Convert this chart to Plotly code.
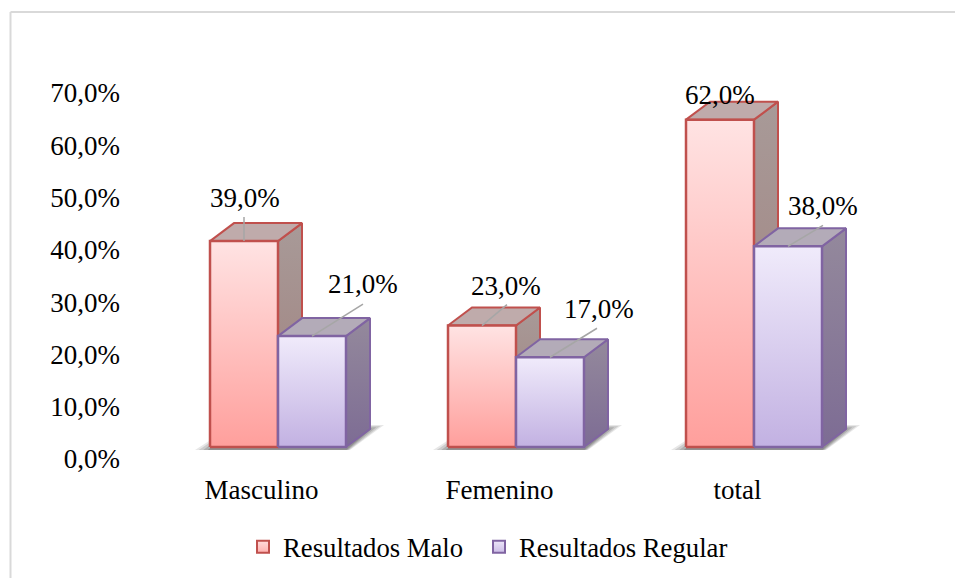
import plotly.graph_objects as go

# ---- data ----
categories = ["Masculino", "Femenino", "total"]
resultados_malo = [39.0, 23.0, 62.0]
resultados_regular = [21.0, 17.0, 38.0]
tick_values = [0, 10, 20, 30, 40, 50, 60, 70]
series_names = ["Resultados Malo", "Resultados Regular"]

# ---- page geometry (pixels) ----
W, H = 955, 578
PX_PER_CAT = 238.0     # distance between groups
X0_PX = 278.0          # centre of first group
PX_PER_PCT = 5.28      # bar scale
BASE_PX = 447.0        # floor of the bars
TICK_ZERO_PX = 459.0   # where the 0,0% tick label sits
TICK_PX_PER_PCT = 5.23
FONT = "Liberation Serif"
FS = 27

dx = 24 / PX_PER_CAT
dy = 18 / PX_PER_PCT
bw = 68 / PX_PER_CAT
ux = 1 / PX_PER_CAT
uy = 1 / PX_PER_PCT

STYLE = [
    dict(line="#C0504D", front=("#FFE3E3", "#FF9F9C"),
         top="#BFABAB", side=("#A89A98", "#A07F7C"), legend=("#FFDCDC", "#FFB0AE")),
    dict(line="#8064A2", front=("#F0EBFB", "#C2B1E2"),
         top="#B3ABB8", side=("#94899C", "#7D6C94"), legend=("#EDE6F9", "#CBBCE6")),
]

fig = go.Figure()


def poly(xs, ys, line=None, color=None, grad=None, lw=2.5):
    kw = dict(x=xs + xs[:1], y=ys + ys[:1], mode="lines", fill="toself",
              hoverinfo="skip", showlegend=False,
              line=dict(width=lw if line else 0, color=line or "rgba(0,0,0,0)"))
    if grad:
        kw["fillgradient"] = dict(type="vertical", colorscale=[[0, grad[1]], [1, grad[0]]])
        kw["fillcolor"] = grad[0]
    else:
        kw["fillcolor"] = color
    fig.add_trace(go.Scatter(**kw))


def bar3d(xl, v, st):
    xr = xl + bw
    poly([xr, xr + dx, xr + dx, xr], [0, dy, v + dy, v], line=st["line"], grad=st["side"], lw=2)
    poly([xl, xl + dx, xr + dx, xr], [v, v + dy, v + dy, v], line=st["line"], color=st["top"], lw=2)
    poly([xl, xr, xr, xl], [0, 0, v, v], line=st["line"], grad=st["front"])


# soft shadows on the floor, built up from a few translucent layers
for i in range(len(categories)):
    xl = i - bw
    xr = i + bw
    for grow, alpha in [(1.0, 0.12), (0.75, 0.16), (0.45, 0.2), (0.15, 0.26)]:
        poly([xl - grow * 15 * ux, xr + grow * 4 * ux, xr + dx + grow * 14 * ux, xl + dx],
             [-3 * uy, -3 * uy, dy + 4 * uy * grow, dy + 4 * uy * grow],
             color=f"rgba(60,60,60,{alpha})")

# bars
for i in range(len(categories)):
    bar3d(i - bw, resultados_malo[i], STYLE[0])
    bar3d(i, resultados_regular[i], STYLE[1])

# leader lines: series, category, end point in px from the front-top centre
LEADERS = [
    (0, 0, (0, 24)),
    (1, 0, (51, 32)),
    (0, 1, (25, 21)),
    (1, 1, (47, 29)),
    (1, 2, (35, 21)),
]
values = [resultados_malo, resultados_regular]
for s, c, b in LEADERS:
    cx = c - bw + (s * bw) + bw / 2
    v = values[s][c]
    fig.add_trace(go.Scatter(x=[cx, cx + b[0] * ux], y=[v, v + b[1] * uy],
                             mode="lines", line=dict(color="#A6A6A6", width=1.5),
                             hoverinfo="skip", showlegend=False))

# data labels (offset in px from front-top centre)
OFFS = {
    (0, 0): (1, 43), (1, 0): (51, 52),
    (0, 1): (24, 40), (1, 1): (49, 48),
    (0, 2): (0, 25), (1, 2): (35, 40),
}
for s in range(2):
    for c in range(len(categories)):
        v = values[s][c]
        cx = c - bw + (s * bw) + bw / 2
        ox, oy = OFFS[(s, c)]
        fig.add_annotation(x=cx, y=v, text=f"{v:.1f}%".replace(".", ","), showarrow=False,
                           xshift=ox, yshift=oy, xanchor="center", yanchor="middle",
                           font=dict(family=FONT, size=FS, color="#000000"))

# legend entries, one legend box per series so each can be placed on its own
for k, (n, st) in enumerate(zip(series_names, STYLE)):
    fig.add_trace(go.Scatter(x=[None], y=[None], mode="markers", name=n, showlegend=True,
                             legend="legend" if k == 0 else "legend2",
                             marker=dict(symbol="square", size=12, color=st["legend"][0],
                                         gradient=dict(type="vertical", color=st["legend"][1]),
                                         line=dict(color=st["line"], width=2))))

# tick-label axis: its own scale, on top of the invisible bar axis
fig.add_trace(go.Scatter(x=[None], y=[None], yaxis="y2", showlegend=False, hoverinfo="skip"))

LEGEND_COMMON = dict(orientation="h", xanchor="left", y=(H - 547) / H, yanchor="middle",
                     bgcolor="rgba(0,0,0,0)", font=dict(family=FONT, size=26.7), itemclick=False)

fig.update_layout(
    width=W, height=H, margin=dict(l=0, r=0, t=0, b=0),
    paper_bgcolor="white", plot_bgcolor="white",
    font=dict(family=FONT, size=FS, color="#000000"),
    xaxis=dict(range=[(0 - X0_PX) / PX_PER_CAT, (W - X0_PX) / PX_PER_CAT], domain=[0, 1],
               showgrid=False, zeroline=False, showline=False,
               tickmode="array", tickvals=[i - 16.5 * ux for i in range(len(categories))],
               ticktext=categories, ticks="", anchor="free", position=(H - 471) / H,
               tickfont=dict(family=FONT, size=FS)),
    yaxis=dict(range=[(BASE_PX - H) / PX_PER_PCT, BASE_PX / PX_PER_PCT], domain=[0, 1],
               visible=False, showgrid=False, zeroline=False),
    yaxis2=dict(range=[(TICK_ZERO_PX - H) / TICK_PX_PER_PCT, TICK_ZERO_PX / TICK_PX_PER_PCT],
                domain=[0, 1], overlaying="y", anchor="free", position=120 / W, side="left",
                showgrid=False, zeroline=False, showline=False, ticks="",
                tickmode="array", tickvals=tick_values,
                ticktext=[f"{t:.1f}%".replace(".", ",") for t in tick_values],
                tickfont=dict(family=FONT, size=FS)),
    legend=dict(x=243 / W, **LEGEND_COMMON),
    legend2=dict(x=479 / W, **LEGEND_COMMON),
    shapes=[
        dict(type="line", xref="paper", yref="paper", x0=10.5 / W, x1=1, y0=(H - 12) / H, y1=(H - 12) / H,
             line=dict(color="#D9D9D9", width=2), layer="below"),
        dict(type="line", xref="paper", yref="paper", x0=10.5 / W, x1=10.5 / W, y0=0, y1=(H - 12) / H,
             line=dict(color="#D9D9D9", width=2), layer="below"),
    ],
)

fig.write_html("out.html", config={"displayModeBar": False},
               post_script="document.body.style.margin='0';")
